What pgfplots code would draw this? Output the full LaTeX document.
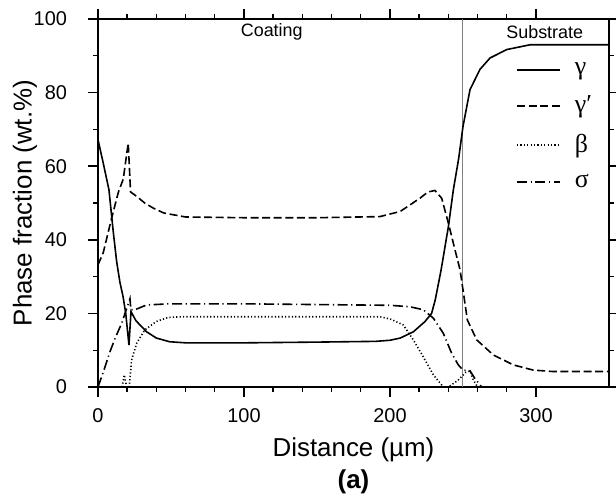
\documentclass[border=0pt]{standalone}
\usepackage{fontspec}
\setmainfont{Liberation Sans}
\newfontfamily\grk{Liberation Serif}
\usepackage{pgfplots}
\pgfplotsset{compat=1.18}
\usetikzlibrary{calc}

\begin{document}
\begin{tikzpicture}
\begin{axis}[
  scale only axis,
  width=255.5bp, height=184bp,
  xmin=0, xmax=350, ymin=0, ymax=100,
  xtick={0,100,200,300}, minor x tick num=4,
  ytick={0,20,...,100}, minor y tick num=1,
  tick align=outside, tick pos=both,
  xticklabel pos=lower, yticklabel pos=left,
  major tick length=5bp, minor tick length=2.5bp,
  every tick/.style={black, line width=0.7bp},
  axis line style={line width=0.9bp},
  /pgf/number format/assume math mode=true,
  tick label style={font=\fontsize{10}{12}\selectfont},
  yticklabel style={xshift=-7bp},
  xticklabel style={yshift=-2.5bp},
  xlabel={Distance (µm)},
  ylabel={Phase fraction (wt.\%)},
  label style={font=\fontsize{13}{15}\selectfont},
  xlabel style={at={(axis description cs:0.5,-0.1712)}, anchor=center},
  ylabel style={at={(axis description cs:-0.1429,0.5)}, anchor=center},
  legend style={draw=none, fill=none, at={(0.806,0.905)}, anchor=north west,
    font=\grk\fontsize{13}{15}\selectfont, row sep=5.3bp},
  legend cell align=left,
  legend image code/.code={\draw[#1] (0bp,0bp) -- (21.5bp,0bp);},
]
\addplot[gray, line width=0.5bp, forget plot] coordinates {(250,0) (250,100)};

% gamma
\addplot[black, line width=0.8bp] coordinates {
  (0,67.2) (3.5,61) (7.5,53.6) (10.5,42) (12.8,34) (15,28.5) (17.2,24.5)
  (19,20) (21.2,11.4) (22.6,20.5) (26,18) (33.3,15) (40,13.3) (49,12.3) (60,12)
  (100,12) (150,12.2) (190,12.4) (200,12.7) (207,13.3) (216,15) (224,17.8)
  (228.5,20) (231,23.7) (235,31.8) (240,43.6) (243.4,53.6) (247,62)
  (250,70.8) (254.8,80.8) (261.6,86.3) (268.5,89.4) (280,91.7) (296,93) (350,93)
};
\addlegendentry{\hspace{5bp}γ}

% gamma prime
\addplot[black, line width=0.8bp, dash pattern=on 4bp off 1.8bp] coordinates {
  (0,33.2) (3.6,36.5) (9.4,46) (14,53) (17.3,56.5) (20.7,66.3) (21.7,58)
  (22.3,53) (26.5,51.8) (32,50) (37.9,48.6) (45,47.3) (51.6,46.8) (60,46.2)
  (100,46) (150,46) (193,46.3) (207,47.7) (220.5,51.3) (226,53) (230.8,53.4)
  (235.4,51.3) (240,44.5) (244.5,37.3) (248,31.8) (250,26.4) (253,18.2)
  (259.4,12.8) (270.8,8.7) (284.5,6) (298,4.6) (311.8,4.2) (350,4.2)
};
\addlegendentry{\hspace{5bp}γ′}

% beta
\addplot[black, line width=0.8bp, dash pattern=on 0.6bp off 1.1bp] coordinates {
  (16.5,0) (18,3.3) (19.6,0) (21.4,0) (23,7.3) (26.5,11.9) (32,15.5)
  (40,17.8) (48,18.9) (58,19.1) (193,19.1) (200,18.5) (209,16.9) (216,12.8)
  (222.8,8.2) (229.7,3.3) (236.5,0) (240,0) (246.8,1.9) (252,4) (254.8,4.4)
  (257,2) (260,0)
};
\addlegendentry{\hspace{5bp}β}

% sigma
\addplot[black, line width=0.8bp, dash pattern=on 5bp off 1.8bp on 0.6bp off 1.8bp] coordinates {
  (0,0) (4,4.5) (8.2,9.6) (12,13.5) (16.2,17.3) (18.5,20) (21.9,24)
  (22.5,21) (25.3,21) (33.3,22.3) (49,22.6) (100,22.6) (200,22.2) (207,22)
  (213.7,21.8) (222.8,21) (229.7,18.7) (236.5,14.6) (242.2,9.2) (246.8,6)
  (250,4.6) (254.8,4.4) (258,2.4) (262.8,0)
};
\addlegendentry{\hspace{5bp}σ}

\node[font=\fontsize{9}{11}\selectfont] at (axis cs:119,96.5) {Coating};
\node[font=\fontsize{9}{11}\selectfont] at (axis cs:306,96.5) {Substrate};

\coordinate (ll) at (rel axis cs:0,0);
\coordinate (ur) at (rel axis cs:1,1);
\end{axis}
\node[font=\bfseries\fontsize{13}{15}\selectfont] at ($(ll)+(127.75bp,-47.5bp)$) {(a)};
\pgfresetboundingbox
\path[use as bounding box] ($(ll)+(-49bp,-56bp)$) rectangle ($(ur)+(3.5bp,9.5bp)$);
\end{tikzpicture}
\end{document}
